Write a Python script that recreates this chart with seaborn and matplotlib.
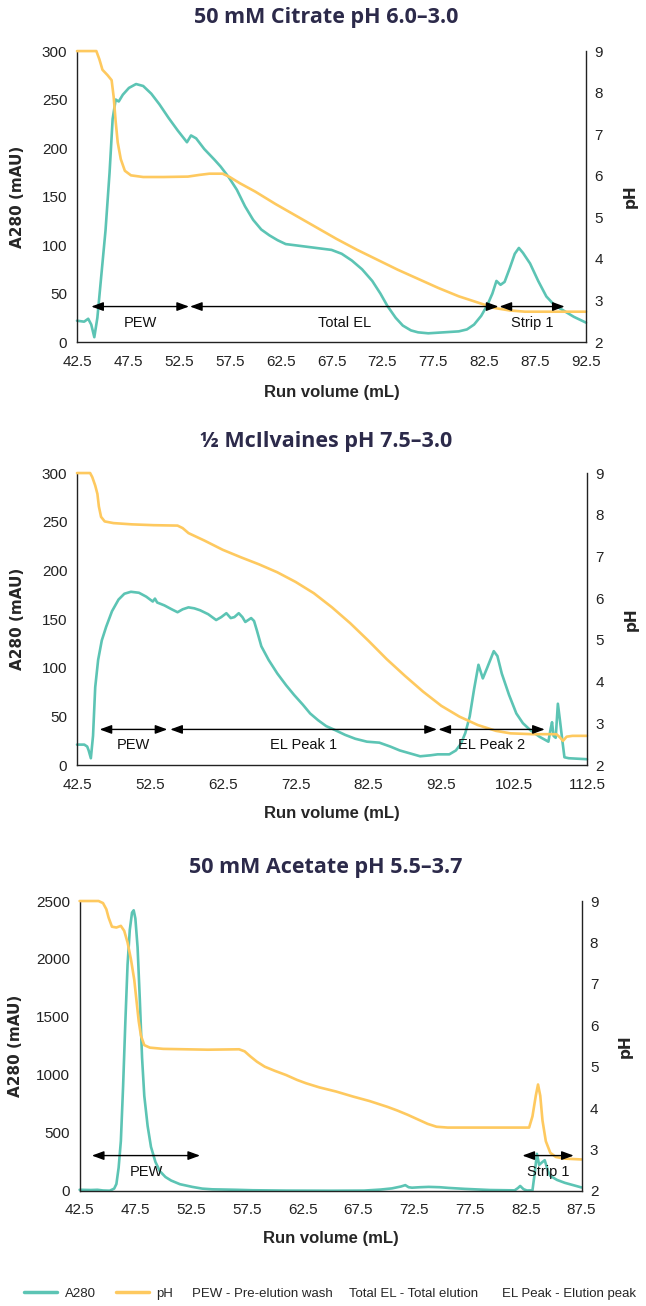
import seaborn as sns
from matplotlib import pyplot as plt

sns.set_style("white")
plt.rcParams['font.family'] = ['Liberation Sans', 'DejaVu Sans']

TEAL = '#5cc4b4'
YELLOW = '#fec95f'
NAVY = '#2c2a4a'

# 50 mM Citrate pH 6.0-3.0
citrate_vol = [42.5, 43.2, 43.6, 43.9, 44.2, 44.5, 44.9, 45.3, 45.7, 46.0, 46.3, 46.6, 47.0, 47.6,
               48.3, 49.0, 49.8, 50.6, 51.5, 52.4, 53.3, 53.7, 54.2, 55.0, 56.0, 56.6, 57.4, 58.2,
               59.0, 59.8, 60.6, 61.4, 62.2, 63.0, 64.5, 66.0, 67.5, 68.5, 69.5, 70.5, 71.5, 72.3,
               73.0, 73.8, 74.5, 75.3, 76.0, 77.0, 78.5, 80.0, 80.8, 81.5, 82.2, 82.8, 83.3, 83.7,
               84.1, 84.5, 85.0, 85.5, 85.9, 86.3, 87.0, 87.8, 88.6, 89.4, 90.2, 91.3, 92.5]
citrate_a280 = [22, 21, 24, 18, 5, 25, 70, 115, 175, 230, 250, 248, 255, 262,
                266, 264, 256, 245, 231, 218, 206, 213, 210, 199, 188, 181, 170, 157,
                140, 126, 116, 110, 105, 101, 99, 97, 95, 91, 84, 75, 63, 50,
                37, 25, 17, 12, 10, 9, 10, 11, 13, 18, 27, 38, 50, 63,
                59, 62, 76, 91, 97, 92, 81, 63, 47, 38, 33, 26, 20]
citrate_ph_vol = [42.5, 44.4, 44.7, 45.0, 45.5, 45.9, 46.1, 46.3, 46.5, 46.8, 47.2, 47.8, 49.0,
                  51.0, 53.4, 54.5, 55.5, 56.8, 57.5, 58.5, 60.0, 62.0, 64.0, 66.0, 68.0, 70.0,
                  72.0, 74.0, 76.0, 78.0, 80.0, 82.0, 83.5, 85.0, 86.5, 92.5]
citrate_ph = [9.0, 9.0, 8.8, 8.55, 8.42, 8.3, 7.9, 7.3, 6.8, 6.4, 6.12, 6.01, 5.97,
              5.97, 5.98, 6.02, 6.05, 6.05, 5.97, 5.82, 5.62, 5.32, 5.04, 4.76, 4.48, 4.22,
              3.98, 3.74, 3.52, 3.3, 3.1, 2.94, 2.82, 2.76, 2.73, 2.73]
citrate_spans = [(43.9, 53.5), (53.6, 83.9), (84.0, 90.4)]
citrate_span_names = ['PEW', 'Total EL', 'Strip 1']
citrate_xticks = [42.5, 47.5, 52.5, 57.5, 62.5, 67.5, 72.5, 77.5, 82.5, 87.5, 92.5]

# 1/2 McIlvaines pH 7.5-3.0
mcil_vol = [42.5, 43.5, 43.9, 44.1, 44.4, 44.7, 45.0, 45.4, 45.9, 46.5, 47.3, 48.2, 49.0, 49.9,
            51.0, 52.0, 52.9, 53.2, 53.5, 54.5, 55.5, 56.3, 57.0, 57.8, 58.6, 59.4, 60.5, 61.6,
            62.3, 63.0, 63.6, 64.1, 64.7, 65.2, 65.6, 66.0, 66.4, 66.8, 67.2, 67.8, 68.8, 70.0,
            71.2, 72.3, 73.5, 74.5, 75.6, 76.7, 77.9, 79.3, 80.7, 82.3, 84.0, 85.5, 86.8, 88.2,
            89.6, 91.0, 92.0, 93.6, 94.5, 95.2, 95.8, 96.4, 97.0, 97.6, 98.2, 98.8, 99.7, 100.2,
            100.8, 101.8, 102.8, 103.7, 104.7, 106.0, 107.2, 107.5, 107.7, 107.9, 108.2, 108.5,
            108.8, 109.1, 109.4, 110.0, 112.5]
mcil_a280 = [21, 21, 19, 15, 7, 30, 80, 108, 128, 142, 158, 170, 176, 178,
             177, 173, 168, 171, 167, 164, 160, 157, 160, 162, 161, 159, 155, 149,
             152, 156, 151, 152, 156, 152, 147, 149, 151, 148, 138, 122, 108, 94,
             82, 72, 62, 53, 46, 40, 36, 31, 27, 24, 23, 19, 15, 12,
             9, 10, 11, 11, 15, 22, 33, 50, 78, 103, 89, 100, 117, 112,
             94, 72, 53, 43, 36, 29, 24, 37, 44, 30, 28, 63,
             45, 26, 8, 7, 6]
mcil_ph_vol = [42.5, 44.3, 44.6, 45.0, 45.3, 45.5, 45.8, 46.3, 47.5, 50.0, 53.0, 56.3, 57.0,
               57.8, 60.0, 62.5, 65.0, 67.5, 70.0, 72.5, 75.0, 77.5, 80.0, 82.5, 85.0, 87.5,
               90.0, 92.5, 95.0, 97.5, 100.0, 102.0, 105.0, 108.3, 108.8, 109.2, 109.7, 110.5, 112.5]
mcil_ph = [9.0, 9.0, 8.9, 8.7, 8.5, 8.2, 7.95, 7.84, 7.8, 7.77, 7.75, 7.74, 7.68,
           7.56, 7.38, 7.16, 6.98, 6.81, 6.62, 6.39, 6.12, 5.78, 5.4, 4.98, 4.54, 4.14,
           3.76, 3.42, 3.16, 2.96, 2.82, 2.76, 2.74, 2.74, 2.66, 2.58, 2.68, 2.70, 2.70]
mcil_spans = [(45.6, 54.9), (55.3, 91.9), (92.1, 106.7)]
mcil_span_names = ['PEW', 'EL Peak 1', 'EL Peak 2']
mcil_xticks = [42.5, 52.5, 62.5, 72.5, 82.5, 92.5, 102.5, 112.5]

# 50 mM Acetate pH 5.5-3.7
acetate_vol = [42.5, 43.5, 44.1, 44.6, 45.2, 45.6, 45.8, 46.0, 46.2, 46.4, 46.6, 46.8, 47.0, 47.2,
               47.35, 47.5, 47.7, 47.9, 48.1, 48.3, 48.6, 48.9, 49.3, 49.7, 50.2, 50.7, 51.5, 52.6,
               53.5, 54.4, 55.5, 56.5, 58.0, 61.0, 65.0, 68.0, 69.5, 70.5, 71.3, 71.7, 72.0, 72.3,
               73.0, 73.8, 74.8, 75.6, 77.0, 79.3, 81.5, 81.8, 82.0, 82.3, 82.6, 83.1, 83.3, 83.5,
               83.7, 84.0, 84.2, 84.5, 84.7, 85.3, 86.0, 87.5]
acetate_a280 = [10, 8, 10, 4, 2, 20, 60, 200, 430, 900, 1450, 1950, 2250, 2400,
                2420, 2350, 2100, 1650, 1150, 820, 560, 380, 250, 170, 120, 90, 58, 35,
                20, 14, 12, 10, 6, 3, 2, 3, 12, 22, 38, 50, 32, 28,
                32, 35, 32, 26, 18, 8, 5, 25, 43, 15, 4, 5, 150, 320,
                225, 250, 265, 170, 130, 95, 70, 30]
acetate_ph_vol = [42.5, 44.2, 44.6, 44.9, 45.1, 45.4, 45.8, 46.2, 46.5, 46.8, 47.1, 47.4, 47.6,
                  47.8, 48.0, 48.3, 48.8, 50.0, 52.0, 54.0, 56.8, 57.3, 57.8, 58.4, 59.1, 60.0,
                  61.0, 62.0, 62.8, 64.0, 65.5, 67.0, 68.5, 70.1, 71.0, 71.9, 72.8, 73.7, 74.5,
                  75.5, 80.0, 82.8, 83.1, 83.4, 83.6, 83.8, 84.0, 84.3, 84.7, 85.2, 86.0, 87.5]
acetate_ph = [9.0, 9.0, 8.95, 8.8, 8.6, 8.38, 8.36, 8.4, 8.28, 8.0, 7.6, 7.1, 6.6,
              6.1, 5.75, 5.52, 5.46, 5.43, 5.42, 5.41, 5.42, 5.37, 5.25, 5.12, 5.0, 4.9,
              4.8, 4.68, 4.6, 4.5, 4.4, 4.28, 4.17, 4.03, 3.94, 3.84, 3.73, 3.62, 3.55,
              3.53, 3.53, 3.53, 3.8, 4.3, 4.57, 4.3, 3.7, 3.2, 2.92, 2.82, 2.78, 2.76]
acetate_spans = [(43.6, 53.3), (82.2, 86.8)]
acetate_span_names = ['PEW', 'Strip 1']
acetate_xticks = [42.5, 47.5, 52.5, 57.5, 62.5, 67.5, 72.5, 77.5, 82.5, 87.5]

ph_ticks = [2, 3, 4, 5, 6, 7, 8, 9]

fig = plt.figure(figsize=(6.46, 13.06), dpi=100)


def draw_panel(rect, title, title_y, vol, a280, ph_vol, ph, xticks, ymax, ystep,
               spans, span_names, ylab_x, phlab_x, xlab_y):
    ax = fig.add_axes(rect)
    ax2 = ax.twinx()

    sns.lineplot(x=vol, y=a280, ax=ax, color=TEAL, linewidth=1.9, estimator=None, clip_on=False)
    sns.lineplot(x=ph_vol, y=ph, ax=ax2, color=YELLOW, linewidth=1.9, estimator=None, clip_on=False)

    ax.set_xlim(xticks[0], xticks[-1])
    ax.set_ylim(0, ymax)
    ax2.set_ylim(2, 9)
    ax.set_xticks(xticks)
    ax.set_xticklabels([f'{t:.1f}' for t in xticks])
    ax.set_yticks(range(0, ymax + 1, ystep))
    ax2.set_yticks(ph_ticks)

    for a in (ax, ax2):
        a.spines['top'].set_visible(False)
        for s in a.spines.values():
            s.set_color('#222222')
            s.set_linewidth(1.0)
    ax.spines['right'].set_visible(False)
    ax2.spines['left'].set_visible(False)
    ax2.spines['bottom'].set_visible(False)

    ax.tick_params(axis='x', length=0, labelsize=11, pad=9, colors='#222222')
    ax.tick_params(axis='y', length=0, labelsize=11, pad=7, colors='#222222')
    ax2.tick_params(axis='y', length=0, labelsize=11, pad=6, colors='#222222')

    ax.set_ylabel('A280 (mAU)', fontsize=11, fontweight='bold', family=['DejaVu Sans'])
    ax.yaxis.set_label_coords(ylab_x, 0.5)
    ax2.set_ylabel('pH', fontsize=11, fontweight='bold', family=['DejaVu Sans'])
    ax2.yaxis.set_label_coords(phlab_x, 0.5)
    ax.set_xlabel('Run volume (mL)', fontsize=12, fontweight='bold')
    ax.xaxis.set_label_coords(0.5, xlab_y)

    # double arrows + names under them
    arrow_y = ymax * 0.122
    text_y = ymax * 0.067
    for (x0, x1), name in zip(spans, span_names):
        ax2.annotate('', xy=(x1, arrow_y), xytext=(x0, arrow_y),
                     xycoords=ax.transData, textcoords=ax.transData,
                     arrowprops=dict(arrowstyle='<|-|>,head_length=0.6,head_width=0.22',
                                     color='black', lw=1.0, mutation_scale=12,
                                     shrinkA=0, shrinkB=0))
        ax2.text((x0 + x1) / 2, text_y, name, transform=ax.transData,
                 ha='center', va='center', fontsize=10.5, color='#111111')

    fig.text(326 / 646, 1 - title_y / 1306, title, ha='center', va='center',
             fontsize=15.5, fontweight='bold', color=NAVY, family=['Open Sans', 'DejaVu Sans'])
    return ax


draw_panel([0.1192, 0.7381, 0.788, 0.2228], '50 mM Citrate pH 6.0\u20133.0', 18,
           citrate_vol, citrate_a280, citrate_ph_vol, citrate_ph, citrate_xticks, 300, 50,
           citrate_spans, citrate_span_names, -0.102, 1.072, -0.148)
draw_panel([0.1192, 0.4142, 0.7895, 0.2236], '\u00bd McIlvaines pH 7.5\u20133.0', 442,
           mcil_vol, mcil_a280, mcil_ph_vol, mcil_ph, mcil_xticks, 300, 50,
           mcil_spans, mcil_span_names, -0.102, 1.072, -0.140)
draw_panel([0.1232, 0.0881, 0.777, 0.2220], '50 mM Acetate pH 5.5\u20133.7', 867,
           acetate_vol, acetate_a280, acetate_ph_vol, acetate_ph, acetate_xticks, 2500, 500,
           acetate_spans, acetate_span_names, -0.113, 1.072, -0.138)

# legend row at the bottom
leg_y = 1 - 1294 / 1306
handles = [plt.Line2D([], [], color=TEAL, lw=2.5), plt.Line2D([], [], color=YELLOW, lw=2.5)]
fig.legend(handles, ['A280', 'pH'], loc='center left', bbox_to_anchor=(24 / 646, leg_y),
           ncol=2, frameon=False, fontsize=9.5, handlelength=2.5, handletextpad=0.6,
           columnspacing=1.5, borderpad=0, borderaxespad=0)
fig.text(192 / 646, leg_y, 'PEW - Pre-elution wash', va='center', fontsize=9.5)
fig.text(349 / 646, leg_y, 'Total EL - Total elution', va='center', fontsize=9.5)
fig.text(502 / 646, leg_y, 'EL Peak - Elution peak', va='center', fontsize=9.5)

plt.savefig('out.png', dpi=100)
